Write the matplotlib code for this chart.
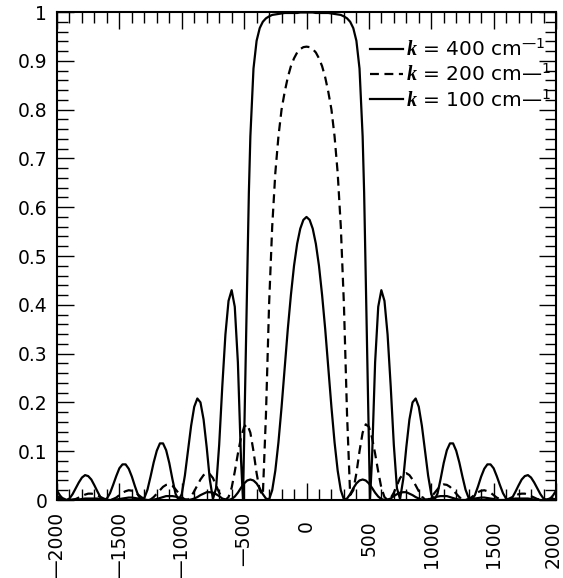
import matplotlib
matplotlib.use("Agg")
import matplotlib.pyplot as plt
import numpy as np
from matplotlib.ticker import MultipleLocator

plt.rcParams['font.family'] = ['DejaVu Sans']
plt.rcParams['mathtext.fontset'] = 'custom'
plt.rcParams['mathtext.rm'] = 'DejaVu Sans'
plt.rcParams['mathtext.it'] = 'Liberation Serif:italic:bold'

# detuning samples (cm^-1)
offset = np.arange(-2000, 2001, 25)
# extra samples where the k = 400 curve drops to its first zero
offset_400 = np.sort(np.concatenate([offset, [-509, -488, -462, 462, 488, 509]]))

# reflectance
refl_100 = [
    0.002, 0.002, 0.001, 0.000, 0.000, 0.000, 0.000, 0.001, 0.002, 0.003,
    0.003, 0.003, 0.003, 0.003, 0.002, 0.001, 0.000, 0.000, 0.000, 0.001,
    0.002, 0.003, 0.004, 0.005, 0.005, 0.004, 0.003, 0.002, 0.001, 0.000,
    0.000, 0.001, 0.002, 0.004, 0.006, 0.008, 0.008, 0.008, 0.007, 0.005,
    0.003, 0.001, 0.000, 0.001, 0.003, 0.006, 0.010, 0.013, 0.016, 0.016,
    0.015, 0.012, 0.008, 0.003, 0.001, 0.000, 0.002, 0.007, 0.015, 0.025,
    0.034, 0.040, 0.042, 0.040, 0.034, 0.024, 0.012, 0.003, 0.001, 0.020,
    0.060, 0.118, 0.190, 0.270, 0.350, 0.420, 0.480, 0.525, 0.556, 0.574,
    0.580,
    0.574, 0.556, 0.525, 0.480, 0.420, 0.350, 0.270, 0.190, 0.118, 0.060,
    0.020, 0.001, 0.003, 0.012, 0.024, 0.034, 0.040, 0.042, 0.040, 0.034,
    0.025, 0.015, 0.007, 0.002, 0.000, 0.001, 0.003, 0.008, 0.012, 0.015,
    0.016, 0.016, 0.013, 0.010, 0.006, 0.003, 0.001, 0.000, 0.001, 0.003,
    0.005, 0.007, 0.008, 0.008, 0.008, 0.006, 0.004, 0.002, 0.001, 0.000,
    0.000, 0.001, 0.002, 0.003, 0.004, 0.005, 0.005, 0.004, 0.003, 0.002,
    0.001, 0.000, 0.000, 0.000, 0.001, 0.002, 0.003, 0.003, 0.003, 0.003,
    0.003, 0.002, 0.001, 0.000, 0.000, 0.000, 0.000, 0.001, 0.002, 0.002,
]

refl_200 = [
    0.008, 0.005, 0.003, 0.001, 0.000, 0.001, 0.002, 0.005, 0.008, 0.011,
    0.013, 0.013, 0.012, 0.009, 0.006, 0.003, 0.000, 0.000, 0.002, 0.005,
    0.010, 0.015, 0.018, 0.020, 0.019, 0.016, 0.011, 0.006, 0.002, 0.000,
    0.001, 0.006, 0.013, 0.020, 0.027, 0.031, 0.032, 0.029, 0.022, 0.014,
    0.006, 0.001, 0.001, 0.007, 0.018, 0.030, 0.042, 0.051, 0.055, 0.053,
    0.045, 0.030, 0.015, 0.004, 0.000, 0.006, 0.025, 0.058, 0.095, 0.128,
    0.150, 0.155, 0.138, 0.100, 0.055, 0.020, 0.010, 0.175, 0.400, 0.560,
    0.670, 0.745, 0.800, 0.836, 0.866, 0.889, 0.905, 0.917, 0.924, 0.928,
    0.929,
    0.928, 0.924, 0.917, 0.905, 0.889, 0.866, 0.836, 0.800, 0.745, 0.670,
    0.560, 0.400, 0.175, 0.010, 0.020, 0.055, 0.100, 0.138, 0.155, 0.150,
    0.128, 0.095, 0.058, 0.025, 0.006, 0.000, 0.004, 0.015, 0.030, 0.045,
    0.053, 0.055, 0.051, 0.042, 0.030, 0.018, 0.007, 0.001, 0.001, 0.006,
    0.014, 0.022, 0.029, 0.032, 0.031, 0.027, 0.020, 0.013, 0.006, 0.001,
    0.000, 0.002, 0.006, 0.011, 0.016, 0.019, 0.020, 0.018, 0.015, 0.010,
    0.005, 0.002, 0.000, 0.000, 0.003, 0.006, 0.009, 0.012, 0.013, 0.013,
    0.011, 0.008, 0.005, 0.002, 0.001, 0.000, 0.001, 0.003, 0.005, 0.008,
]

refl_400 = [
    0.019, 0.009, 0.002, 0.000, 0.003, 0.012, 0.024, 0.036, 0.046, 0.051,
    0.049, 0.042, 0.030, 0.017, 0.005, 0.000, 0.003, 0.014, 0.031, 0.049,
    0.065, 0.073, 0.073, 0.064, 0.048, 0.028, 0.010, 0.000, 0.004, 0.021,
    0.048, 0.077, 0.101, 0.116, 0.116, 0.102, 0.076, 0.043, 0.013, 0.000,
    0.012, 0.050, 0.101, 0.152, 0.191, 0.208, 0.200, 0.165, 0.108, 0.042,
    0.002, 0.024, 0.113, 0.233, 0.339, 0.408, 0.430, 0.396, 0.282, 0.083,
    0.000, 0.120, 0.280, 0.450, 0.630,
    0.745, 0.884, 0.941, 0.967, 0.980, 0.987, 0.991, 0.994,
    0.995, 0.996, 0.997, 0.998, 0.998, 0.998, 0.998, 0.998, 0.999, 0.999,
    0.999,
    0.999, 0.999, 0.998, 0.998, 0.998, 0.998, 0.998, 0.997, 0.996, 0.995,
    0.994, 0.991, 0.987, 0.980, 0.967, 0.941, 0.884, 0.745,
    0.630, 0.450, 0.280, 0.120, 0.000,
    0.083, 0.282, 0.396, 0.430, 0.408, 0.339, 0.233, 0.113, 0.024, 0.002,
    0.042, 0.108, 0.165, 0.200, 0.208, 0.191, 0.152, 0.101, 0.050, 0.012,
    0.000, 0.013, 0.043, 0.076, 0.102, 0.116, 0.116, 0.101, 0.077, 0.048,
    0.021, 0.004, 0.000, 0.010, 0.028, 0.048, 0.064, 0.073, 0.073, 0.065,
    0.049, 0.031, 0.014, 0.003, 0.000, 0.005, 0.017, 0.030, 0.042, 0.049,
    0.051, 0.046, 0.036, 0.024, 0.012, 0.003, 0.000, 0.002, 0.009, 0.019,
]

series_labels = [
    '$k$ = 400 cm$^{\u20141}$',
    '$k$ = 200 cm\u2014$^{1}$',
    '$k$ = 100 cm\u2014$^{1}$',
]

x_ticks = [-2000, -1500, -1000, -500, 0, 500, 1000, 1500, 2000]
x_tick_labels = ['\u20142000', '\u20141500', '\u20141000', '\u2014500',
                 '0', '500', '1000', '1500', '2000']
y_ticks = [0, 0.1, 0.2, 0.3, 0.4, 0.5, 0.6, 0.7, 0.8, 0.9, 1]
y_tick_labels = ['0', '0.1', '0.2', '0.3', '0.4', '0.5', '0.6', '0.7', '0.8', '0.9', '1']

fig = plt.figure(figsize=(5.63, 5.78), dpi=100)
ax = fig.add_axes([57 / 563, 78 / 578, 499 / 563, 488 / 578])

ax.plot(offset_400, refl_400, color='black', lw=1.6, label=series_labels[0])
ax.plot(offset, refl_200, color='black', lw=1.6, ls=(0, (4, 2.5)), label=series_labels[1])
ax.plot(offset, refl_100, color='black', lw=1.6, label=series_labels[2])

ax.set_xlim(-2000, 2000)
ax.set_ylim(0, 1)

ax.set_xticks(x_ticks)
ax.set_yticks(y_ticks)
ax.set_yticklabels(y_tick_labels)
ax.xaxis.set_minor_locator(MultipleLocator(100))
ax.yaxis.set_minor_locator(MultipleLocator(0.02))

ax.tick_params(which='both', direction='in', top=True, right=True, width=1.0,
               labelsize=13.5)
ax.tick_params(which='major', length=12)
ax.tick_params(which='minor', length=8)
ax.tick_params(axis='x', labelbottom=False)
ax.tick_params(axis='y', pad=7)

# rotated x labels; the positive ones sit a little lower, as in the original
for xv, lab in zip(x_ticks, x_tick_labels):
    drop = 8.5 if xv < 0 else 14.5
    shift = -2 if xv == x_ticks[-1] else 0
    ax.annotate(lab, xy=(xv, 0), xycoords=('data', 'axes fraction'),
                xytext=(shift, -drop), textcoords='offset points',
                rotation=90, ha='center', va='top', fontsize=13.5,
                annotation_clip=False)

for s in ax.spines.values():
    s.set_linewidth(1.5)

ax.legend(loc='upper right', bbox_to_anchor=(0.99, 0.945), frameon=False,
          fontsize=14.5, handlelength=1.65, handletextpad=0.15,
          labelspacing=0.2, borderaxespad=0.0, borderpad=0.0)

plt.savefig('out.png', dpi=100)
